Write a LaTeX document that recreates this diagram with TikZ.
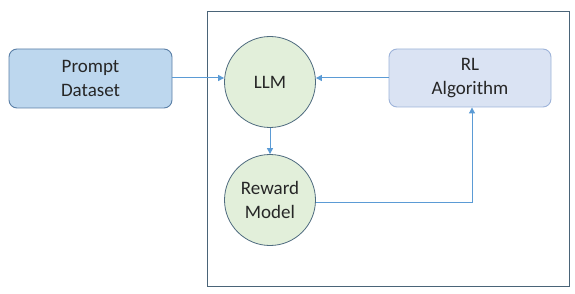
\documentclass[tikz,border=0pt]{standalone}
\usepackage{fontspec}
\setmainfont{Carlito}
\usetikzlibrary{arrows.meta}
\definecolor{pdfill}{HTML}{BDD7EE}
\definecolor{pdline}{HTML}{5A7FA6}
\definecolor{rlfill}{HTML}{DAE3F3}
\definecolor{rlline}{HTML}{9DB3D9}
\definecolor{cfill}{HTML}{E2EFDA}
\definecolor{cline}{HTML}{4F6B7F}
\definecolor{arr}{HTML}{5B9BD5}
\definecolor{frame}{HTML}{4A6478}
\tikzset{
  txt/.style={font=\fontsize{19}{24}\selectfont, align=center, text=black!85},
  pdbox/.style={txt, draw=pdline, fill=pdfill, rounded corners=8pt, minimum width=163pt, minimum height=59pt, inner sep=0pt, line width=0.9pt},
  rlbox/.style={txt, draw=rlline, fill=rlfill, rounded corners=8pt, minimum width=162pt, minimum height=58pt, inner sep=0pt, line width=0.9pt},
  circ/.style={txt, circle, draw=cline, fill=cfill, minimum size=91pt, inner sep=0pt, line width=0.8pt},
  conn/.style={draw=arr, line width=1pt, -{Triangle[length=6pt,width=6pt]}},
}
\begin{document}
\begin{tikzpicture}[x=1pt,y=-1pt]
\useasboundingbox (0,0) rectangle (575,294);
\draw[frame, line width=1pt] (207,12) rectangle (569,286);
\node[pdbox] (pd) at (90.5,78.5) {Prompt\\Dataset};
\node[rlbox] (rl) at (470,78) {RL\\Algorithm};
\node[circ] (llm) at (270,82) {LLM};
\node[circ] (rm) at (270,200) {Reward\\Model};
\coordinate (c1) at (472,202);
\draw[conn] (pd.east |- 0,78) -- (llm.west |- 0,78);
\draw[conn] (rl.west |- 0,78) -- (llm.east |- 0,78);
\draw[conn] (llm.south) -- (rm.north);
\draw[conn] (rm.east |- c1) -- (c1) -- (c1 |- rl.south);
\end{tikzpicture}
\end{document}
